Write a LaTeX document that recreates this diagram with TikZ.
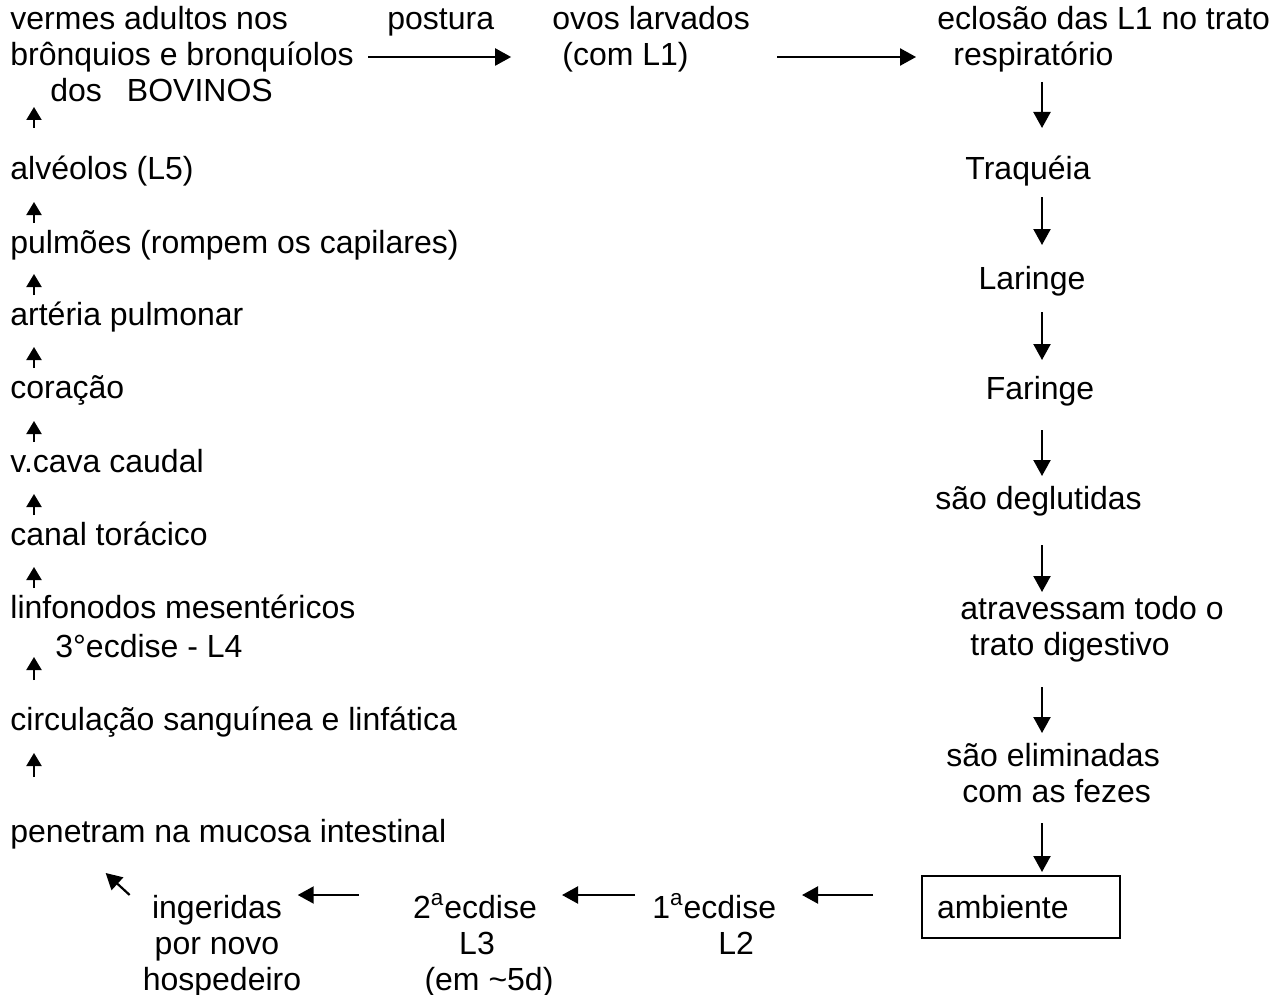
\documentclass[tikz,border=0pt]{standalone}
\usepackage{fontspec}
\setmainfont{Liberation Sans}
\usetikzlibrary{arrows.meta}
\begin{document}
\begin{tikzpicture}[x=0.5pt,y=-0.5pt,
  every node/.style={inner sep=0pt, font=\fontsize{16}{18}\selectfont},
  lt/.style={anchor=base west},
  ct/.style={anchor=base},
  arr/.style={line width=1.1pt, -{Triangle[length=8pt,width=8.5pt]}},
  uarr/.style={line width=1.1pt, -{Triangle[length=6.5pt,width=7.5pt]}},
  boxed/.style={draw, line width=1pt, anchor=west, text width=84pt, align=left, inner xsep=7.5pt, minimum height=31pt}
]
\path[use as bounding box, fill=white] (0,0) rectangle (1279,995);
\coordinate (colR) at (1042,0);

% top row
\node[lt] (v1) at (10,30) {vermes adultos nos};
\node[lt] (v2) at (10,66) {brônquios e bronquíolos};
\node[lt] (v3) at (50,102) {dos\hspace{12.5pt}BOVINOS};
\node[lt] (pos) at (387,30) {postura};
\node[lt] (ovo) at (552,30) {ovos larvados};
\node[lt] (com) at (562,66) {(com L1)};
\node[lt] (ecl) at (937,30) {eclosão das L1 no trato};
\node[lt] (res) at (953,66) {respiratório};

% right column
\node[ct] (trq) at (1028,179) {Traquéia};
\node[ct] (lar) at (1032,289) {Laringe};
\node[ct] (far) at (1040,399) {Faringe};
\node[lt] (deg) at (935,509) {são deglutidas};
\node[lt] (atr) at (960,619) {atravessam todo o};
\node[lt] (tra) at (970,655) {trato digestivo};
\node[lt] (eli) at (946,766) {são eliminadas};
\node[lt] (fez) at (962,802) {com as fezes};
\node[boxed] (amb) at (921,907) {ambiente};

% bottom row
\node[lt] (e1) at (652,918) {1\textsuperscript{a}ecdise};
\node[lt] (l2) at (718,954) {L2};
\node[ct] (e2) at (475,918) {2\textsuperscript{a}ecdise};
\node[ct] (l3) at (477,954) {L3};
\node[ct] (d5) at (489,990) {(em \textasciitilde5d)};
\node[ct] (ing) at (217,918) {ingeridas};
\node[ct] (nov) at (217,954) {por novo};
\node[ct] (hos) at (222,990) {hospedeiro};

% left column
\node[lt] (alv) at (10,179) {alvéolos (L5)};
\node[lt] (pul) at (10,253) {pulmões (rompem os capilares)};
\node[lt] (art) at (10,325) {artéria pulmonar};
\node[lt] (cor) at (10,398) {coração};
\node[lt] (vca) at (10,472) {v.cava caudal};
\node[lt] (can) at (10,545) {canal torácico};
\node[lt] (lin) at (10,618) {linfonodos mesentéricos};
\node[lt] (ec3) at (55,657) {3°ecdise - L4};
\node[lt] (cir) at (10,730) {circulação sanguínea e linfática};
\node[lt] (pen) at (10,842) {penetram na mucosa intestinal};

% top arrows
\draw[arr] (v2.base east) ++(14,-9) -- ++(143,0);
\draw[arr] (com.base east) ++(88,-9) -- ++(139,0);

% right column arrows
\draw[arr] (res.base -| colR) ++(0,16) -- ++(0,46);
\draw[arr] (trq.base -| colR) ++(0,18) -- ++(0,48);
\draw[arr] (lar.base -| colR) ++(0,23) -- ++(0,48);
\draw[arr] (far.base -| colR) ++(0,31) -- ++(0,46);
\draw[arr] (deg.base -| colR) ++(0,36) -- ++(0,47);
\draw[arr] (tra.base -| colR) ++(0,32) -- ++(0,46);
\draw[arr, shorten >=1.5pt] (fez.base -| colR) ++(0,21) -- (amb.north -| colR);

% bottom arrows
\draw[arr] (amb.west) ++(-48,-12) -- ++(-71,0);
\draw[arr] (e1.base west) ++(-17,-23) -- ++(-73,0);
\draw[arr] (e2.base west) ++(-54,-23) -- ++(-61,0);
\draw[arr] (ing.base west) ++(-22,-23) -- ++(-24,-22);

% left column arrows
\draw[uarr] (alv.base west) ++(24,-51) -- ++(0,-21);
\draw[uarr] (pul.base west) ++(24,-30) -- ++(0,-21);
\draw[uarr] (art.base west) ++(24,-30) -- ++(0,-21);
\draw[uarr] (cor.base west) ++(24,-30) -- ++(0,-21);
\draw[uarr] (vca.base west) ++(24,-30) -- ++(0,-21);
\draw[uarr] (can.base west) ++(24,-30) -- ++(0,-21);
\draw[uarr] (lin.base west) ++(24,-30) -- ++(0,-21);
\draw[uarr] (cir.base west) ++(24,-50) -- ++(0,-23);
\draw[uarr] (pen.base west) ++(24,-65) -- ++(0,-24);
\end{tikzpicture}
\end{document}
